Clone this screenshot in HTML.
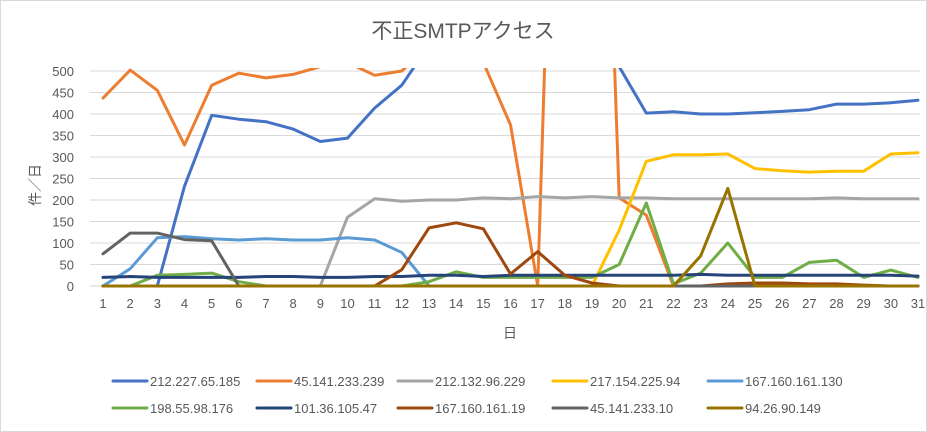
<!DOCTYPE html>
<html><head><meta charset="utf-8">
<style>
body{margin:0;background:#fff;}
svg{display:block;font-family:"Liberation Sans","Noto Sans CJK JP",sans-serif;}
</style></head>
<body>
<svg id="chart" width="927" height="432" viewBox="0 0 927 432" xmlns="http://www.w3.org/2000/svg">
<rect x="0.5" y="0.5" width="926" height="431" fill="#fff" stroke="#d9d9d9"/>
<text x="463" y="38" text-anchor="middle" font-size="21" fill="#595959">不正SMTPアクセス</text>
<text transform="translate(40,185) rotate(-90)" text-anchor="middle" font-size="14" fill="#595959">件／日</text>
<text x="510" y="338" text-anchor="middle" font-size="14" fill="#595959">日</text>
<defs><clipPath id="plotclip"><rect x="90" y="68" width="840" height="222"/></clipPath></defs>
<g id="grid"></g>
<g id="series" clip-path="url(#plotclip)"></g>
<g id="legend"></g>
</svg>
<script>
const days = [1,2,3,4,5,6,7,8,9,10,11,12,13,14,15,16,17,18,19,20,21,22,23,24,25,26,27,28,29,30,31];
const yTicks = [0,50,100,150,200,250,300,350,400,450,500];
const names = ["212.227.65.185","45.141.233.239","212.132.96.229","217.154.225.94","167.160.161.130","198.55.98.176","101.36.105.47","167.160.161.19","45.141.233.10","94.26.90.149"];
const colors = ["#4472c4","#ed7d31","#a5a5a5","#ffc000","#5b9bd5","#70ad47","#264478","#9e480e","#636363","#997300"];
const s1 = [0,0,0,232,397,388,382,365,336,344,414,467,560,600,600,600,600,600,600,510,402,405,400,400,403,406,410,423,423,426,432];
const s2 = [437,502,455,328,467,495,484,492,510,520,490,500,560,600,520,375,0,2000,2000,205,165,0,0,0,0,0,0,0,0,0,0];
const s3 = [0,0,0,0,0,0,0,0,0,160,203,197,200,200,205,203,208,205,208,205,205,203,203,203,203,203,203,205,203,203,203];
const s4 = [0,0,0,0,0,0,0,0,0,0,0,0,0,0,0,0,0,0,0,130,290,305,305,307,273,268,265,267,267,307,310];
const s5 = [0,40,112,115,110,107,110,107,107,112,107,78,0,0,0,0,0,0,0,0,0,0,0,0,0,0,0,0,0,0,0];
const s6 = [0,0,25,27,30,10,0,0,0,0,0,0,10,33,20,20,20,20,20,50,193,5,30,100,20,20,55,60,20,37,20];
const s7 = [20,22,20,20,20,20,22,22,20,20,22,22,25,25,22,25,25,25,25,25,25,25,27,25,25,25,25,25,25,25,23];
const s8 = [0,0,0,0,0,0,0,0,0,0,0,38,135,147,133,28,80,25,7,0,0,0,0,5,7,7,5,5,2,0,0];
const s9 = [75,123,123,108,105,0,0,0,0,0,0,0,0,0,0,0,0,0,0,0,0,0,0,0,0,0,0,0,0,0,0];
const s10 = [0,0,0,0,0,0,0,0,0,0,0,0,0,0,0,0,0,0,0,0,0,0,70,227,0,0,0,0,0,0,0];
const seriesData = [s1,s2,s3,s4,s5,s6,s7,s8,s9,s10];

const NS="http://www.w3.org/2000/svg";
const x0=103, x1=918, yTop=71, yBot=286, yMax=500;
function xScale(d){return x0+(d-1)*(x1-x0)/(days.length-1);}
function yScale(v){return yBot-(v/yMax)*(yBot-yTop);}
function mk(tag,attrs){const e=document.createElementNS(NS,tag);for(const k in attrs)e.setAttribute(k,attrs[k]);return e;}

const grid=document.getElementById('grid');
yTicks.forEach(t=>{
  const y=yScale(t);
  const l=mk('line',{x1:90,x2:930-10,y1:y,y2:y,stroke:t===0?'#d0d0d0':'#d9d9d9','stroke-width':1});
  
  
  grid.appendChild(l);
  const tx=mk('text',{x:74,y:y+5,'text-anchor':'end','font-size':13,fill:'#595959'});
  tx.textContent=t;
  
  
  grid.appendChild(tx);
});
days.forEach(d=>{
  const tx=mk('text',{x:xScale(d),y:308,'text-anchor':'middle','font-size':13,fill:'#595959'});
  tx.textContent=d;
  
  
  grid.appendChild(tx);
});

const sg=document.getElementById('series');
seriesData.forEach((arr,i)=>{
  const pts=arr.map((v,j)=>xScale(days[j]).toFixed(1)+','+yScale(v).toFixed(1)).join(' ');
  const p=mk('polyline',{points:pts,fill:'none',stroke:colors[i],'stroke-width':3,'stroke-linejoin':'round','stroke-linecap':'round'});
  
  
  sg.appendChild(p);
});

const lg=document.getElementById('legend');
const lx=[113,257,398,553,708];
names.forEach((n,i)=>{
  const x=lx[i%5], y=i<5?381:408;
  const g=mk('g',{});
  
  
  g.appendChild(mk('line',{x1:x,x2:x+34,y1:y,y2:y,stroke:colors[i],'stroke-width':3,'stroke-linecap':'round'}));
  const t=mk('text',{x:x+37,y:y+5,'font-size':13,fill:'#595959'});
  t.textContent=n;
  g.appendChild(t);
  lg.appendChild(g);
});
</script>
</body></html>
